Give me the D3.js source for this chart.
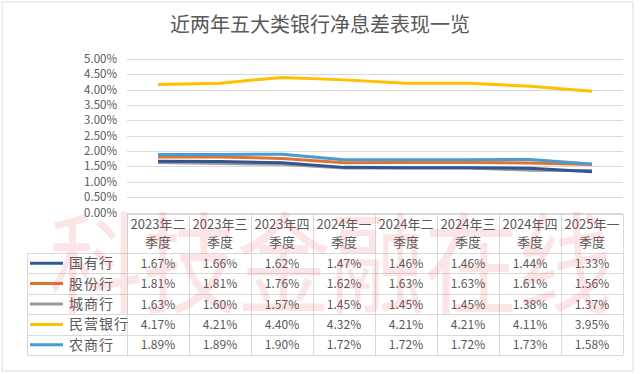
<!DOCTYPE html>
<html lang="zh-CN">
<head>
  <meta charset="utf-8">
  <title>近两年五大类银行净息差表现一览</title>
  <script src="https://d3js.org/d3.v7.min.js"></script>
  <style>
    body { margin: 0; background: #fff; }
    #chart text { font-family: "Noto Sans CJK SC", "Noto Sans", sans-serif; fill: #595959; }
  </style>
</head>
<body>
  <div id="chart"></div>

  <script>
    "use strict"

    // dados
    var quarters = ["2023年二季度", "2023年三季度", "2023年四季度", "2024年一季度",
                    "2024年二季度", "2024年三季度", "2024年四季度", "2025年一季度"];
    var banks = ["国有行", "股份行", "城商行", "民营银行", "农商行"];
    var guoyou  = [1.67, 1.66, 1.62, 1.47, 1.46, 1.46, 1.44, 1.33];
    var gufen   = [1.81, 1.81, 1.76, 1.62, 1.63, 1.63, 1.61, 1.56];
    var chengshang = [1.63, 1.60, 1.57, 1.45, 1.45, 1.45, 1.38, 1.37];
    var minying = [4.17, 4.21, 4.40, 4.32, 4.21, 4.21, 4.11, 3.95];
    var nongshang = [1.89, 1.89, 1.90, 1.72, 1.72, 1.72, 1.73, 1.58];
    var yTicks = [0, 0.5, 1, 1.5, 2, 2.5, 3, 3.5, 4, 4.5, 5];

    var series = [guoyou, gufen, chengshang, minying, nongshang];
    var colors = ["#2f5597", "#e0742e", "#9a9a9a", "#ffc000", "#4a9ad6"];

    var width = 640, height = 374;
    var svg = d3.select("#chart").append("svg")
      .attr("width", width).attr("height", height);

    // moldura
    svg.append("rect")
      .attr("x", 2).attr("y", 2).attr("width", 631).attr("height", 369)
      .attr("fill", "#fff").attr("stroke", "#dcdcdc");

    svg.append("text")
      .attr("x", 320).attr("y", 32)
      .attr("text-anchor", "middle")
      .style("font-size", "20px")
      .text("近两年五大类银行净息差表现一览");

    var x = d3.scaleBand().domain(quarters).range([127, 623]);
    var y = d3.scaleLinear().domain([0, 5]).range([212.5, 59]);

    // grade
    svg.append("g").selectAll("line")
      .data(yTicks).enter().append("line")
        .attr("x1", 127).attr("x2", 623)
        .attr("y1", d => Math.round(y(d)) + 0.5).attr("y2", d => Math.round(y(d)) + 0.5)
        .attr("stroke", "#d9d9d9");

    svg.append("g").selectAll("text")
      .data(yTicks).enter().append("text")
        .attr("x", 117).attr("y", d => y(d) + 4)
        .attr("text-anchor", "end")
        .style("font-size", "11.5px")
        .text(d => d.toFixed(2) + "%");

    // linhas
    var line = d3.line()
      .x((d, i) => x(quarters[i]) + x.bandwidth() / 2)
      .y(d => y(d));

    var order = [2, 0, 1, 4, 3];
    svg.append("g").selectAll("path")
      .data(order).enter().append("path")
        .attr("d", k => line(series[k]))
        .attr("fill", "none")
        .attr("stroke", k => colors[k])
        .attr("stroke-width", 3)
        .attr("stroke-linejoin", "round");

    // tabela
    var tableTop = 214, headBottom = 253;
    var r = d3.scaleBand().domain(banks).range([headBottom, 355]);
    var grid = svg.append("g").attr("stroke", "#d9d9d9").attr("fill", "none");

    grid.append("line").attr("x1", 127).attr("x2", 623).attr("y1", tableTop + 0.5).attr("y2", tableTop + 0.5);
    r.range().concat(banks.map(b => r(b))).forEach(function (yy) {
      grid.append("line").attr("x1", 27).attr("x2", 623)
        .attr("y1", Math.round(yy) + 0.5).attr("y2", Math.round(yy) + 0.5);
    });
    grid.append("line").attr("x1", 27.5).attr("x2", 27.5).attr("y1", headBottom).attr("y2", 355);
    quarters.concat([null]).forEach(function (q) {
      var xx = q ? x(q) : 623;
      grid.append("line").attr("x1", Math.round(xx) + 0.5).attr("x2", Math.round(xx) + 0.5)
        .attr("y1", tableTop).attr("y2", 355);
    });

    var head = svg.append("g").selectAll("g")
      .data(quarters).enter().append("g")
        .attr("transform", q => "translate(" + (x(q) + x.bandwidth() / 2) + ",0)");
    head.append("text").attr("y", 229).attr("text-anchor", "middle")
      .style("font-size", "13px").text(q => q.slice(0, q.length - 2));
    head.append("text").attr("y", 247).attr("text-anchor", "middle")
      .style("font-size", "13px").text(q => q.slice(q.length - 2));

    var rows = svg.append("g").selectAll("g")
      .data(banks).enter().append("g")
        .attr("transform", b => "translate(0," + (r(b) + r.bandwidth() / 2) + ")");
    rows.append("line")
      .attr("x1", 30).attr("x2", 63)
      .attr("stroke", (b, i) => colors[i]).attr("stroke-width", 3);
    rows.append("text")
      .attr("x", 69).attr("y", 5)
      .style("font-size", "14px").style("letter-spacing", "1px")
      .text(b => b);
    rows.selectAll("text.v")
      .data((b, i) => series[i]).enter().append("text")
        .attr("class", "v")
        .attr("x", (d, j) => x(quarters[j]) + x.bandwidth() / 2)
        .attr("y", 4.5)
        .attr("text-anchor", "middle")
        .style("font-size", "12px")
        .text(d => d.toFixed(2) + "%");

    // marca d'agua
    svg.append("text")
      .attr("x", 49).attr("y", 305)
      .attr("textLength", 563).attr("lengthAdjust", "spacingAndGlyphs")
      .style("font-size", "110px")
      .style("fill", "#e8383d").style("fill-opacity", 0.13)
      .text("科技金融在线");
  </script>
</body>
</html>
